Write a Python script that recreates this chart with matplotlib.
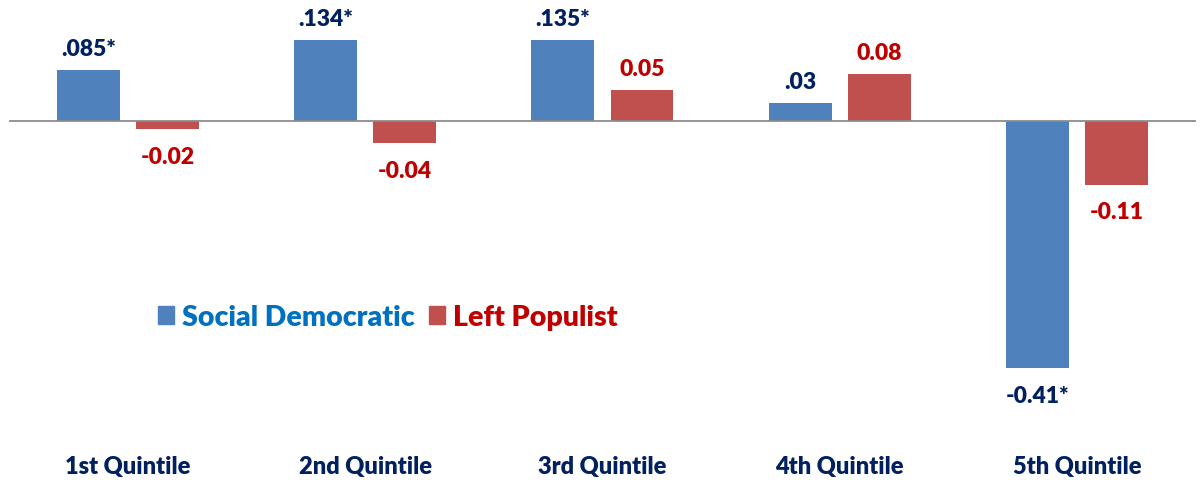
import matplotlib
matplotlib.use("Agg")
import matplotlib.pyplot as plt
from matplotlib.patches import Rectangle
from matplotlib.transforms import blended_transform_factory

# ==============================
# DATOS
# ==============================

quintiles = ["1st Quintile", "2nd Quintile", "3rd Quintile", "4th Quintile", "5th Quintile"]
social_dem = [0.085, 0.134, 0.135, 0.03, -0.41]
left_pop = [-0.014, -0.037, 0.051, 0.078, -0.106]
social_dem_labels = [".085*", ".134*", ".135*", ".03", "-0.41*"]
left_pop_labels = ["-0.02", "-0.04", "0.05", "0.08", "-0.11"]

# ==============================
# ESTILO
# ==============================

BLUE = "#4F81BD"
RED = "#C0504D"
NAVY = "#002060"
DARK_RED = "#C00000"
LEGEND_BLUE = "#0070C0"
FONT = "Lato"
WEIGHT = "heavy"

plt.rcParams["font.family"] = [FONT, "DejaVu Sans"]

fig = plt.figure(figsize=(12.01, 4.81), dpi=100)
ax = fig.add_axes([0, 0, 1, 1])

x = list(range(len(quintiles)))
offset = 0.1665
width = 0.2655

b1 = ax.bar([i - offset for i in x], social_dem, width, color=BLUE, zorder=2)
b2 = ax.bar([i + offset for i in x], left_pop, width, color=RED, zorder=2)

ax.set_xlim(-0.5395, 4.5227)
ax.set_ylim(-0.5954, 0.2023)
ax.axhline(0, xmin=10 / 1201, xmax=1195 / 1201, color="#8C8C8C", lw=1.3, zorder=3)


def label_bars(bars, values, labels, color):
    for bar, v, txt in zip(bars, values, labels):
        cx = bar.get_x() + bar.get_width() / 2
        dy = 15.5 if v >= 0 else -19.5
        ax.annotate(txt, (cx, v), xytext=(0, dy), textcoords="offset points",
                    ha="center", va="center", fontsize=16.5, fontweight=WEIGHT,
                    color=color)


label_bars(b1, social_dem, social_dem_labels, NAVY)
label_bars(b2, left_pop, left_pop_labels, DARK_RED)

trans = blended_transform_factory(ax.transData, ax.transAxes)
for i, q in zip(x, quintiles):
    ax.text(i, 1 - 467 / 481, q, transform=trans, ha="center", va="center",
            fontsize=17, fontweight=WEIGHT, color=NAVY)

handles = [Rectangle((0, 0), 1, 1, color=BLUE), Rectangle((0, 0), 1, 1, color=RED)]
ax.legend(handles, ["Social Democratic", "Left Populist"], loc="center",
          bbox_to_anchor=(388 / 1201, 1 - 318 / 481), ncol=2, frameon=False,
          labelcolor=[LEGEND_BLUE, DARK_RED], handlelength=0.55, handleheight=0.55,
          handletextpad=0.3, columnspacing=0.5,
          prop={"family": FONT, "weight": WEIGHT, "size": 20.5})

ax.axis("off")
fig.savefig("out.png", dpi=100)
